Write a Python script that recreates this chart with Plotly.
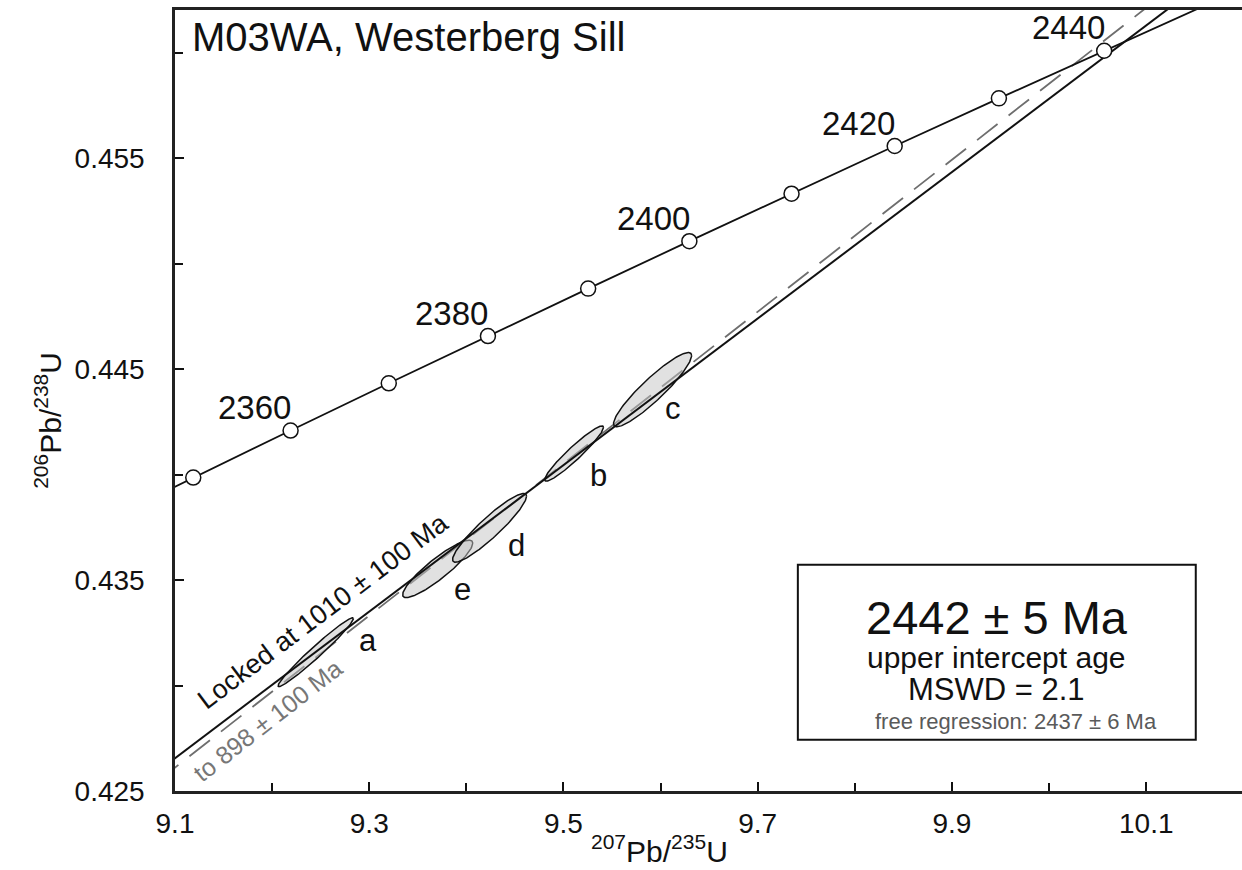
import numpy as np
import plotly.graph_objects as go

# Wetherill concordia, reference points every 10 Ma
conc_age = [2340, 2350, 2360, 2370, 2380, 2390, 2400, 2410, 2420, 2430, 2440, 2450]
conc_pb207_u235 = [9.0197, 9.1188, 9.2190, 9.3201, 9.4222, 9.5254, 9.6296,
                   9.7348, 9.8410, 9.9483, 10.0567, 10.1661]
conc_pb206_u238 = [0.43763, 0.43986, 0.44209, 0.44433, 0.44657, 0.44882, 0.45107,
                   0.45332, 0.45558, 0.45784, 0.46010, 0.46236]
labelled_ages = [2360, 2380, 2400, 2420, 2440]

# Zircon analyses: ratio, 2-sigma error, error correlation
spot_names = ["a", "e", "d", "b", "c"]
spot_pb207_u235 = [9.2449, 9.3705, 9.4239, 9.5109, 9.5917]
spot_err_207 = [0.0388, 0.0361, 0.0381, 0.0303, 0.0402]
spot_pb206_u238 = [0.43158, 0.43553, 0.43748, 0.44100, 0.44403]
spot_err_206 = [0.00163, 0.00136, 0.00163, 0.00131, 0.00176]
spot_rho = [0.977, 0.898, 0.922, 0.948, 0.917]

# Discordia lines (end points across the plotted window)
locked_x = [9.05, 10.25]
locked_y = [0.42482, 0.46651]
free_x = [9.05, 10.25]
free_y = [0.42431, 0.46754]

FONT = "Liberation Sans, Arial, Helvetica, sans-serif"
X_RANGE = [9.1, 10.1986]
Y_RANGE = [0.425, 0.46203]

fig = go.Figure()

# free regression (dashed, grey)
fig.add_trace(go.Scatter(x=free_x, y=free_y, mode="lines",
                         line=dict(color="#6e6e6e", width=1.8, dash="26px,14px"),
                         hoverinfo="skip"))

# error ellipses
t = np.linspace(0, 2 * np.pi, 181)
for name, cx, sx, cy, sy, r in zip(spot_names, spot_pb207_u235, spot_err_207,
                                    spot_pb206_u238, spot_err_206, spot_rho):
    ex = cx + sx * np.cos(t)
    ey = cy + sy * (r * np.cos(t) + np.sqrt(1 - r * r) * np.sin(t))
    fig.add_trace(go.Scatter(x=ex, y=ey, mode="lines", fill="toself",
                             fillcolor="rgba(195,195,195,0.5)",
                             line=dict(color="#111111", width=1.5),
                             name=name, hoverinfo="skip"))

# discordia locked at 1010 Ma
fig.add_trace(go.Scatter(x=locked_x, y=locked_y, mode="lines",
                         line=dict(color="#111111", width=2.0), hoverinfo="skip"))

# concordia curve
fig.add_trace(go.Scatter(x=conc_pb207_u235, y=conc_pb206_u238, mode="lines",
                         line=dict(color="#111111", width=1.8), hoverinfo="skip"))

# age markers for the points inside the window
inside = [X_RANGE[0] <= x <= X_RANGE[1] and Y_RANGE[0] <= y <= Y_RANGE[1]
          for x, y in zip(conc_pb207_u235, conc_pb206_u238)]
fig.add_trace(go.Scatter(x=[x for x, k in zip(conc_pb207_u235, inside) if k],
                         y=[y for y, k in zip(conc_pb206_u238, inside) if k],
                         mode="markers",
                         marker=dict(symbol="circle", size=15, color="white",
                                     line=dict(color="#111111", width=1.5)),
                         hoverinfo="skip"))

annotations = []
# age labels next to the concordia markers
for age, x, y in zip(conc_age, conc_pb207_u235, conc_pb206_u238):
    if age in labelled_ages:
        annotations.append(dict(x=x, y=y, text=str(age), showarrow=False,
                                xshift=-36, yshift=23,
                                font=dict(family=FONT, size=33, color="#111111")))

# analysis letters
letter_shift = {"a": (52, 12), "b": (24, -22), "c": (20, -19), "d": (27, -18), "e": (25, -21)}
for name, x, y in zip(spot_names, spot_pb207_u235, spot_pb206_u238):
    dx, dy = letter_shift[name]
    annotations.append(dict(x=x, y=y, text=name, showarrow=False, xshift=dx, yshift=dy,
                            font=dict(family=FONT, size=31, color="#111111")))

annotations += [
    dict(x=9.1154, y=0.46075, text="M03WA, Westerberg Sill", showarrow=False,
         xanchor="left", yanchor="middle",
         font=dict(family=FONT, size=40, color="#111111")),
    dict(x=9.2525, y=0.43355, text="Locked at 1010 ± 100 Ma", showarrow=False,
         textangle=-37, font=dict(family=FONT, size=27, color="#111111")),
    dict(x=9.1957, y=0.42838, text="to 898 ± 100 Ma", showarrow=False,
         textangle=-38, font=dict(family=FONT, size=25, color="#777777")),
    dict(x=9.9461, y=0.43324, text="2442 ± 5 Ma", showarrow=False,
         font=dict(family=FONT, size=47, color="#111111")),
    dict(x=9.9461, y=0.43135, text="upper intercept age", showarrow=False,
         font=dict(family=FONT, size=30, color="#111111")),
    dict(x=9.9461, y=0.42980, text="MSWD = 2.1", showarrow=False,
         font=dict(family=FONT, size=31, color="#111111")),
    dict(x=9.9660, y=0.42829, text="free regression: 2437 ± 6 Ma", showarrow=False,
         font=dict(family=FONT, size=22, color="#5a5a5a")),
    dict(xref="paper", yref="paper", x=0.4545, y=-0.101,
         text="<sup>207</sup>Pb/<sup>235</sup>U", showarrow=False,
         font=dict(family=FONT, size=30, color="#111111")),
    dict(xref="paper", yref="paper", x=-0.1387, y=0.474, textangle=-90,
         text="<sup>206</sup>Pb/<sup>238</sup>U", showarrow=False,
         font=dict(family=FONT, size=30, color="#111111")),
]

shapes = [dict(type="rect", xref="x", yref="y", x0=9.7413, x1=10.1510,
               y0=0.42743, y1=0.43573, line=dict(color="#111111", width=2),
               fillcolor="white", layer="below")]

x_major = [9.1, 9.3, 9.5, 9.7, 9.9, 10.1]
x_minor = [9.2, 9.4, 9.6, 9.8, 10.0, 10.2]
y_major = [0.425, 0.435, 0.445, 0.455]
y_minor = [0.430, 0.440, 0.450, 0.460]

fig.update_layout(
    width=1242, height=870, autosize=False,
    margin=dict(l=175, r=0, t=10, b=79),
    paper_bgcolor="white", plot_bgcolor="white",
    showlegend=False,
    font=dict(family=FONT, color="#111111"),
    annotations=annotations, shapes=shapes,
    xaxis=dict(range=X_RANGE, tickvals=x_major,
               ticktext=[f"{v:.1f}" for v in x_major],
               ticks="inside", ticklen=9, tickwidth=1.5, tickcolor="#111111",
               minor=dict(tickvals=x_minor, ticks="inside", ticklen=8,
                          tickwidth=1.5, tickcolor="#111111"),
               showline=True, linewidth=2.5, linecolor="#222222", mirror=True,
               showgrid=False, zeroline=False, ticklabelstandoff=6,
               tickfont=dict(family=FONT, size=28, color="#111111")),
    yaxis=dict(range=Y_RANGE, tickvals=y_major,
               ticktext=[f"{v:.3f}" for v in y_major],
               ticks="inside", ticklen=9, tickwidth=1.5, tickcolor="#111111",
               minor=dict(tickvals=y_minor, ticks="inside", ticklen=8,
                          tickwidth=1.5, tickcolor="#111111"),
               showline=True, linewidth=2.5, linecolor="#222222", mirror=False,
               showgrid=False, zeroline=False, ticklabelstandoff=22,
               tickfont=dict(family=FONT, size=28, color="#111111")),
)

fig.write_html("out.html")
